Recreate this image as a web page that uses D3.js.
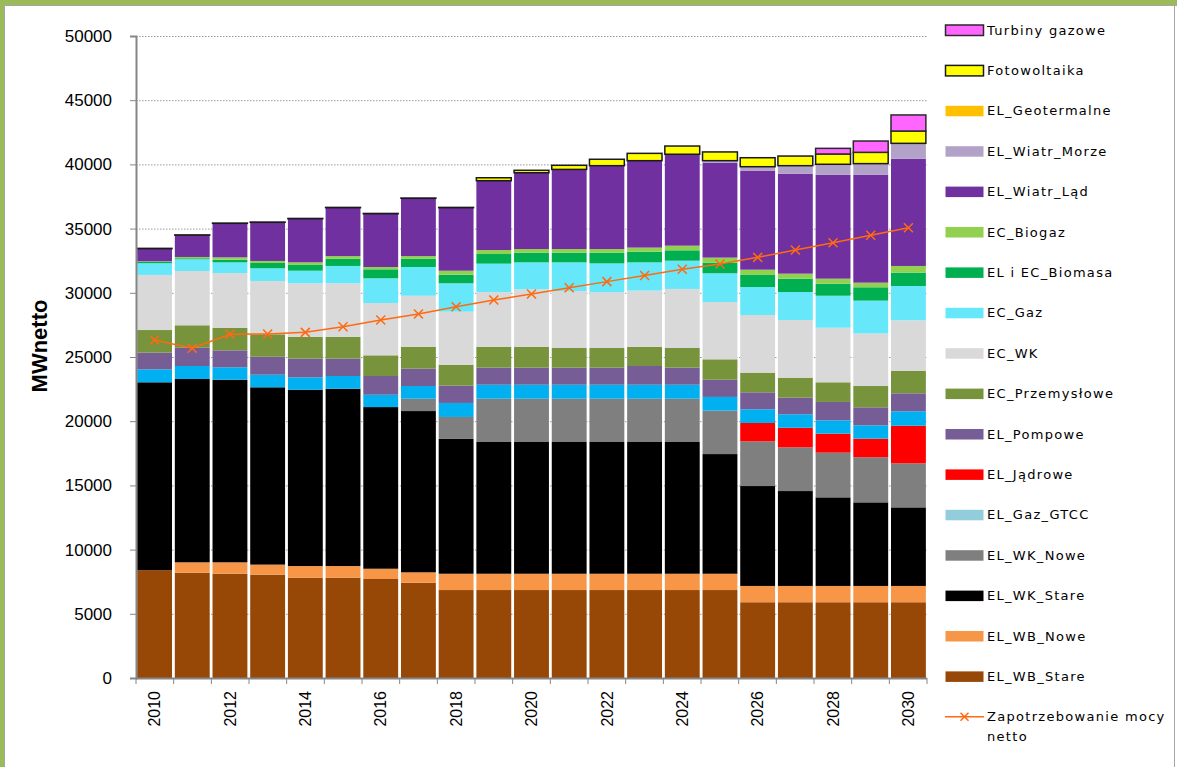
<!DOCTYPE html>
<html>
<head>
<meta charset="utf-8">
<script src="https://cdn.jsdelivr.net/npm/d3@7"></script>
<style>
  body { margin: 0; background: #fff; }
</style>
</head>
<body>
<div id="chart"></div>
<script>
// Categories
var years = [2010, 2011, 2012, 2013, 2014, 2015, 2016, 2017, 2018, 2019, 2020,
             2021, 2022, 2023, 2024, 2025, 2026, 2027, 2028, 2029, 2030];

// Series values (MW netto), bottom of the stack first
var wbStare     = [8400, 8200, 8120, 8050, 7810, 7810, 7710, 7420, 6850, 6850, 6850, 6850, 6850, 6850, 6850, 6850, 5900, 5900, 5900, 5900, 5900];
var wbNowe      = [0, 810, 890, 780, 910, 910, 800, 810, 1270, 1270, 1270, 1270, 1270, 1270, 1270, 1270, 1270, 1270, 1270, 1270, 1270];
var wkStare     = [14630, 14280, 14220, 13810, 13730, 13810, 12590, 12560, 10500, 10260, 10260, 10260, 10260, 10260, 10260, 9320, 7780, 7390, 6900, 6510, 6120];
var wkNowe      = [0, 0, 0, 0, 0, 0, 0, 960, 1710, 3370, 3370, 3370, 3370, 3370, 3370, 3380, 3480, 3400, 3480, 3510, 3430];
var gazGtcc     = [0, 0, 0, 0, 0, 0, 0, 0, 0, 0, 0, 0, 0, 0, 0, 0, 0, 0, 0, 0, 0];
var jadrowe     = [0, 0, 0, 0, 0, 0, 0, 0, 0, 0, 0, 0, 0, 0, 0, 0, 1430, 1530, 1480, 1450, 2930];
var wodne       = [1010, 1010, 970, 980, 970, 990, 960, 990, 1090, 1090, 1090, 1090, 1090, 1090, 1090, 1070, 1070, 1050, 1040, 1040, 1120];
var pompowe     = [1300, 1420, 1320, 1400, 1450, 1350, 1460, 1350, 1350, 1330, 1330, 1330, 1330, 1460, 1330, 1340, 1320, 1290, 1430, 1400, 1400];
var przemyslowe = [1760, 1750, 1760, 1750, 1710, 1710, 1610, 1710, 1630, 1630, 1630, 1530, 1530, 1500, 1530, 1590, 1530, 1560, 1530, 1660, 1740];
var ecWk        = [4290, 4230, 4260, 4150, 4160, 4160, 4070, 3970, 4130, 4260, 4470, 4440, 4340, 4370, 4600, 4460, 4490, 4490, 4250, 4090, 3950];
var ecGaz       = [910, 910, 830, 990, 980, 1350, 1930, 2240, 2210, 2210, 2100, 2230, 2250, 2200, 2200, 2240, 2180, 2180, 2490, 2560, 2670];
var biomasa     = [100, 80, 210, 410, 450, 570, 700, 650, 670, 750, 750, 750, 830, 830, 810, 830, 940, 1040, 940, 1040, 1040];
var biogaz      = [50, 100, 180, 160, 200, 200, 180, 200, 310, 310, 290, 290, 290, 320, 360, 390, 410, 390, 390, 360, 520];
var wiatrLad    = [990, 1700, 2650, 3010, 3400, 3770, 4150, 4500, 4910, 5400, 5940, 6200, 6490, 6770, 7120, 7400, 7690, 7790, 8080, 8390, 8350];
var wiatrMorze  = [0, 0, 0, 0, 0, 0, 0, 0, 0, 0, 0, 0, 0, 0, 0, 150, 330, 620, 830, 880, 1200];
var geotermalne = [0, 0, 0, 0, 0, 0, 0, 0, 0, 0, 0, 0, 0, 0, 0, 0, 0, 0, 0, 0, 0];
var fotowoltaika = [20, 20, 20, 20, 20, 20, 20, 20, 20, 230, 190, 320, 500, 570, 640, 680, 700, 750, 800, 880, 960];
var turbiny     = [0, 0, 0, 0, 0, 0, 0, 0, 0, 0, 0, 0, 0, 0, 0, 0, 0, 0, 440, 880, 1250];

// Line series
var zapotrzebowanie = [26320, 25680, 26770, 26790, 26920, 27360, 27880, 28350, 28920, 29440, 29900,
                       30400, 30870, 31340, 31830, 32240, 32760, 33330, 33900, 34480, 35070];

// Axis ticks
var yTicks = [0, 5000, 10000, 15000, 20000, 25000, 30000, 35000, 40000, 45000, 50000];

// Stack order, names, colours (legend: null = no entry)
var series = [
  {name: "EL_WB_Stare",     values: wbStare,      color: "#974706"},
  {name: "EL_WB_Nowe",      values: wbNowe,       color: "#F79646"},
  {name: "EL_WK_Stare",     values: wkStare,      color: "#000000"},
  {name: "EL_WK_Nowe",      values: wkNowe,       color: "#7F7F7F"},
  {name: "EL_Gaz_GTCC",     values: gazGtcc,      color: "#92CDDC"},
  {name: "EL_Jądrowe",      values: jadrowe,      color: "#FF0000"},
  {name: null,              values: wodne,        color: "#00B0F0"},
  {name: "EL_Pompowe",      values: pompowe,      color: "#775D96"},
  {name: "EC_Przemysłowe",  values: przemyslowe,  color: "#77933C"},
  {name: "EC_WK",           values: ecWk,         color: "#D9D9D9"},
  {name: "EC_Gaz",          values: ecGaz,        color: "#66E8FA"},
  {name: "EL i EC_Biomasa", values: biomasa,      color: "#00B050"},
  {name: "EC_Biogaz",       values: biogaz,       color: "#92D050"},
  {name: "EL_Wiatr_Ląd",    values: wiatrLad,     color: "#7030A0"},
  {name: "EL_Wiatr_Morze",  values: wiatrMorze,   color: "#B3A2C7"},
  {name: "EL_Geotermalne",  values: geotermalne,  color: "#FFC000"},
  {name: "Fotowoltaika",    values: fotowoltaika, color: "#FFFF00", stroke: "#1a1a1a"},
  {name: "Turbiny gazowe",  values: turbiny,      color: "#FF66FF", stroke: "#2a2a2a"}
];

var W = 1177, H = 767;
var plot = {left: 136, right: 927, top: 36, bottom: 678};

var svg = d3.select("#chart").append("svg")
    .attr("width", W)
    .attr("height", H)
    .style("font-family", "'DejaVu Sans', sans-serif");

svg.append("rect").attr("width", W).attr("height", H).attr("fill", "#fff");

// Frame
svg.append("rect").attr("x", 0).attr("y", 0).attr("width", W).attr("height", 5).attr("fill", "#9BBB59");
svg.append("rect").attr("x", 0).attr("y", 0).attr("width", 4).attr("height", H).attr("fill", "#9BBB59");
svg.append("line").attr("x1", 5).attr("x2", W).attr("y1", 5.5).attr("y2", 5.5).attr("stroke", "#a6a6a6");
svg.append("line").attr("x1", 4.5).attr("x2", 4.5).attr("y1", 5).attr("y2", H).attr("stroke", "#a6a6a6");
svg.append("line").attr("x1", 1174.5).attr("x2", 1174.5).attr("y1", 5).attr("y2", H).attr("stroke", "#a6a6a6");

// Scales
var x = d3.scaleBand()
    .domain(years)
    .range([plot.left, plot.right])
    .paddingInner(0.075)
    .paddingOuter(0.03);

var y = d3.scaleLinear()
    .domain([0, 50000])
    .range([plot.bottom, plot.top]);

// Gridlines
svg.append("g")
    .selectAll("line")
    .data(yTicks.filter(function(d) { return d > 0; }))
    .enter().append("line")
    .attr("x1", plot.left).attr("x2", plot.right)
    .attr("y1", function(d) { return y(d) + 0.5; })
    .attr("y2", function(d) { return y(d) + 0.5; })
    .attr("stroke", "#9a9a9a")
    .attr("stroke-width", 1)
    .attr("stroke-dasharray", "1.5,1.5");

// Stacked bars
var table = years.map(function(yr, i) {
    var row = {year: yr};
    series.forEach(function(s, k) { row["s" + k] = s.values[i]; });
    return row;
});
var stack = d3.stack().keys(series.map(function(s, k) { return "s" + k; }));
var layers = stack(table);

svg.append("g")
    .selectAll("g")
    .data(layers)
    .enter().append("g")
    .each(function(layer, k) {
        var s = series[k];
        d3.select(this).selectAll("rect")
            .data(layer.filter(function(d) { return d[1] - d[0] > 0; }))
            .enter().append("rect")
            .attr("x", function(d) { return x(d.data.year); })
            .attr("width", x.bandwidth())
            .attr("y", function(d) { return y(d[1]); })
            .attr("height", function(d) { return y(d[0]) - y(d[1]); })
            .attr("fill", s.color)
            .attr("stroke", s.stroke || "none")
            .attr("stroke-width", s.stroke ? 1.5 : 0);
    });

// Y axis
var yAxis = svg.append("g")
    .attr("transform", "translate(" + plot.left + ",0)")
    .call(d3.axisLeft(y).tickValues(yTicks).tickSize(6).tickPadding(18).tickFormat(d3.format("d")));
yAxis.select(".domain").attr("stroke", "#868686").attr("stroke-width", 2);
yAxis.selectAll(".tick line").attr("stroke", "#868686");
yAxis.selectAll(".tick text")
    .style("font-size", "17px")
    .attr("fill", "#000");

// X axis: line + ticks between categories
svg.append("line")
    .attr("x1", plot.left).attr("x2", plot.right)
    .attr("y1", plot.bottom + 0.5).attr("y2", plot.bottom + 0.5)
    .attr("stroke", "#868686").attr("stroke-width", 2);
svg.append("g")
    .selectAll("line")
    .data(d3.range(years.length + 1))
    .enter().append("line")
    .attr("x1", function(i) { return plot.left + i * (plot.right - plot.left) / years.length; })
    .attr("x2", function(i) { return plot.left + i * (plot.right - plot.left) / years.length; })
    .attr("y1", plot.bottom).attr("y2", plot.bottom + 6)
    .attr("stroke", "#868686");

// X labels (every other year)
svg.append("g")
    .selectAll("text")
    .data(years.filter(function(d) { return d % 2 === 0; }))
    .enter().append("text")
    .attr("transform", function(d) {
        return "translate(" + (x(d) + x.bandwidth() / 2) + "," + 691 + ") rotate(-90)";
    })
    .attr("text-anchor", "end")
    .attr("dy", "0.36em")
    .style("font-family", "'Liberation Sans', Arial, sans-serif")
    .style("font-size", "16px")
    .text(function(d) { return d; });

// Y axis title
svg.append("text")
    .attr("transform", "translate(39,346) rotate(-90)")
    .attr("text-anchor", "middle")
    .attr("dy", "0.35em")
    .style("font-family", "'Liberation Sans', Arial, sans-serif")
    .style("font-weight", "bold")
    .style("font-size", "22px")
    .text("MWnetto");

// Demand line
var line = d3.line()
    .x(function(d, i) { return x(years[i]) + x.bandwidth() / 2; })
    .y(function(d) { return y(d); });

svg.append("path")
    .datum(zapotrzebowanie)
    .attr("fill", "none")
    .attr("stroke", "#FF6A10")
    .attr("stroke-width", 1.5)
    .attr("d", line);

function cross(g, cx, cy, r) {
    g.append("path")
        .attr("d", "M" + (cx - r) + "," + (cy - r) + "L" + (cx + r) + "," + (cy + r) +
                   "M" + (cx - r) + "," + (cy + r) + "L" + (cx + r) + "," + (cy - r))
        .attr("stroke", "#FF6A10")
        .attr("stroke-width", 1.5)
        .attr("fill", "none");
}

var markers = svg.append("g");
zapotrzebowanie.forEach(function(v, i) {
    cross(markers, x(years[i]) + x.bandwidth() / 2, y(v), 4.5);
});

// Legend
var legendItems = series.filter(function(s) { return s.name; }).reverse();
var legend = svg.append("g");
legendItems.forEach(function(s, i) {
    var cy = 30 + i * 40.4;
    legend.append("rect")
        .attr("x", 945.5).attr("y", cy - 5)
        .attr("width", 38).attr("height", 10.5)
        .attr("fill", s.color)
        .attr("stroke", s.stroke || "none")
        .attr("stroke-width", s.stroke ? 1.5 : 0);
    legend.append("text")
        .attr("x", 987).attr("y", cy)
        .attr("dy", "0.35em")
        .style("font-size", "13px")
        .style("letter-spacing", "1.3px")
        .text(s.name);
});
var ly = 30 + legendItems.length * 40.4;
legend.append("line")
    .attr("x1", 945).attr("x2", 984)
    .attr("y1", ly).attr("y2", ly)
    .attr("stroke", "#FF6A10").attr("stroke-width", 1.5);
cross(legend, 964.5, ly, 4);
legend.append("text")
    .attr("x", 987).attr("y", ly)
    .attr("dy", "0.35em")
    .style("font-size", "13px")
    .style("letter-spacing", "1.3px")
    .text("Zapotrzebowanie mocy");
legend.append("text")
    .attr("x", 987).attr("y", ly + 20)
    .attr("dy", "0.35em")
    .style("font-size", "13px")
    .style("letter-spacing", "1.3px")
    .text("netto");
</script>
</body>
</html>
